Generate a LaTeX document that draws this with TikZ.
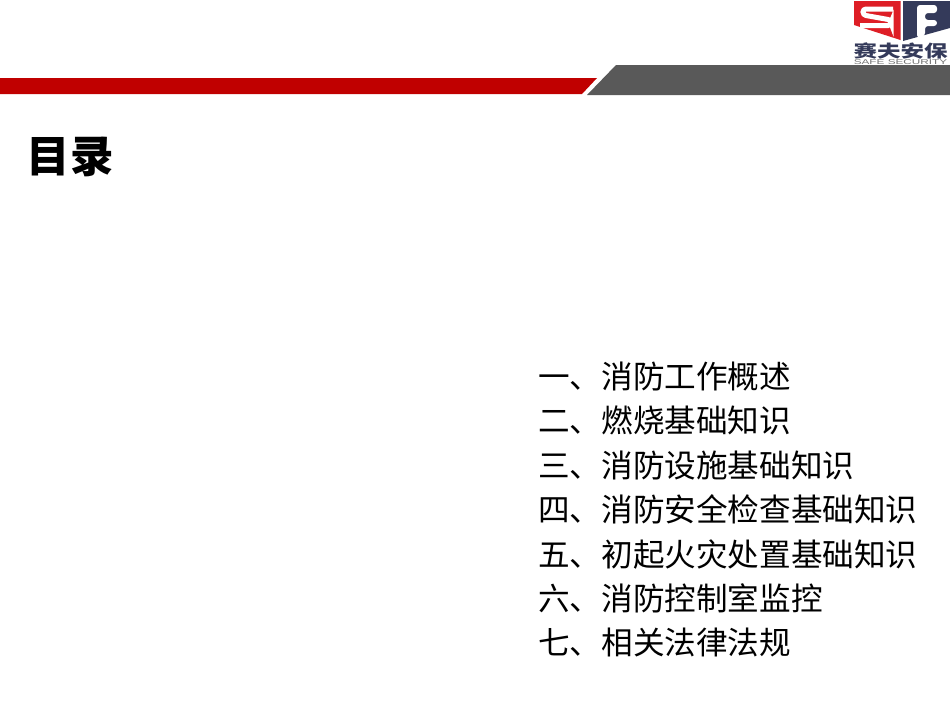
\documentclass[tikz,border=0pt]{standalone}
\usepackage{fontspec}
\setmainfont{Liberation Sans}
\newfontfamily\cjk{Noto Sans CJK SC}
\usetikzlibrary{positioning}
\definecolor{barred}{RGB}{192,0,0}
\definecolor{bargray}{RGB}{89,89,89}
\definecolor{logonavy}{RGB}{52,58,90}
\definecolor{logored}{RGB}{222,30,38}
\tikzset{
    entry/.style={inner sep=0pt, text height=26pt, text depth=5pt, anchor=west, font=\cjk\fontsize{31.6}{31.6}\selectfont, text=black},
}
\begin{document}
\begin{tikzpicture}[x=1pt, y=-1pt, node distance=13pt]
    \useasboundingbox (0,0) rectangle (950,713);
    \fill[white] (0,0) rectangle (950,713);

    % bars
    \fill[barred] (0,78) -- (597,78) -- (582,94) -- (0,94) -- cycle;
    \fill[bargray] (616,65) -- (950,65) -- (950,95) -- (587,95) -- cycle;

    % logo
    \fill[logored] (854,1) -- (900.5,1) -- (900.5,40) -- (854,25) -- cycle;
    \fill[logonavy] (903,1) -- (950,1) -- (950,28) -- (903,41) -- cycle;
    \draw[white, line width=5pt, rounded corners=3pt] (893,9) -- (863,9) -- (863,15) -- (891,20) -- (891,25.5) -- (860,25.5);
    \fill[white, rounded corners=3pt] (917,38) -- (917,5) -- (937,5) -- (937,13) -- (925,13) -- (925,20) -- (937,20) -- (937,26) -- (925,26) -- (925,36) -- cycle;
    \node[inner sep=0pt, text=logonavy, font=\cjk\bfseries\fontsize{23.5}{23.5}\selectfont, yscale=.72] (logotext) at (900.5,50.5) {赛夫安保};
    \node[inner sep=0pt, text=black!55, font=\fontsize{7}{7}\selectfont, xscale=1.68] (logosub) at (900.5,62) {SAFE SECURITY};

    \node[inner sep=0pt, anchor=west, font=\cjk\bfseries\fontsize{43.5}{43.5}\selectfont] (title) at (26.5,157) {目录};

    \node[entry] (one) at (538,378) {一、消防工作概述};
    \node[entry, below=of one.south west, anchor=north west] (two) {二、燃烧基础知识};
    \node[entry, below=of two.south west, anchor=north west] (three) {三、消防设施基础知识};
    \node[entry, below=of three.south west, anchor=north west] (four) {四、消防安全检查基础知识};
    \node[entry, below=of four.south west, anchor=north west] (five) {五、初起火灾处置基础知识};
    \node[entry, below=of five.south west, anchor=north west] (six) {六、消防控制室监控};
    \node[entry, below=of six.south west, anchor=north west] (seven) {七、相关法律法规};
\end{tikzpicture}
\end{document}
